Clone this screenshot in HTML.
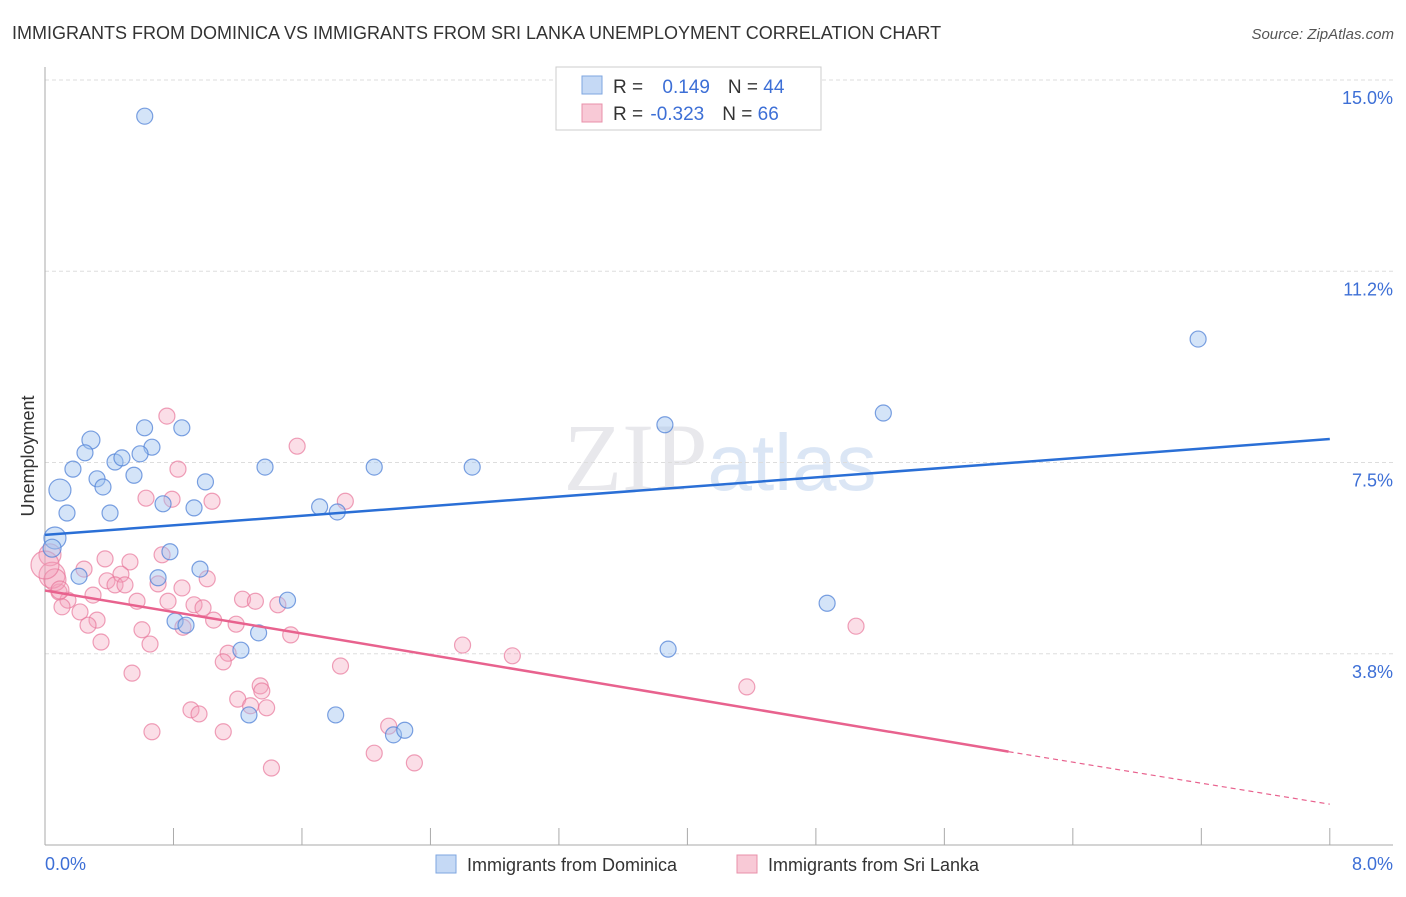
<!DOCTYPE html>
<html><head><meta charset="utf-8"><style>
body{margin:0;background:#fff;font-family:"Liberation Sans",sans-serif;}
svg text{font-family:"Liberation Sans",sans-serif;}
</style></head><body>
<svg id="chart" width="1406" height="892" xmlns="http://www.w3.org/2000/svg">
<text x="12" y="39" font-size="18" fill="#333">IMMIGRANTS FROM DOMINICA VS IMMIGRANTS FROM SRI LANKA UNEMPLOYMENT CORRELATION CHART</text>
<text x="1394" y="39" font-size="15" fill="#555" text-anchor="end" font-style="italic">Source: ZipAtlas.com</text>
<text x="720" y="490" font-size="96" fill="#e8e8ec" text-anchor="middle" font-family="Liberation Serif"><tspan font-family="Liberation Serif">ZIP</tspan><tspan fill="#dbe6f5" font-size="80" font-family="Liberation Sans">atlas</tspan></text>
<text x="34" y="456" font-size="18" fill="#333" text-anchor="middle" transform="rotate(-90 34 456)">Unemployment</text>
<g id="grid"></g><g id="ticks"></g><g id="marks"></g><g id="lines"></g>
<g>
<rect x="556" y="67" width="265" height="63" fill="#fff" stroke="#ccc"/>
<rect x="582" y="76" width="20" height="18" fill="#c5d9f5" stroke="#7ea6e0"/>
<rect x="582" y="104" width="20" height="18" fill="#f8c9d6" stroke="#e890aa"/>
<text x="613" y="93" font-size="19" fill="#333">R = <tspan fill="#3d6fd6" dx="14">0.149</tspan><tspan fill="#333" dx="18">N = </tspan><tspan fill="#3d6fd6">44</tspan></text>
<text x="613" y="120" font-size="19" fill="#333">R = <tspan fill="#3d6fd6" dx="2">-0.323</tspan><tspan fill="#333" dx="18">N = </tspan><tspan fill="#3d6fd6">66</tspan></text>
</g>
<g>
<rect x="436" y="855" width="20" height="18" fill="#c5d9f5" stroke="#7ea6e0"/>
<text x="467" y="871" font-size="18" fill="#333">Immigrants from Dominica</text>
<rect x="737" y="855" width="20" height="18" fill="#f8c9d6" stroke="#e890aa"/>
<text x="768" y="871" font-size="18" fill="#333">Immigrants from Sri Lanka</text>
</g>
</svg>
<script>
const yTicks=[15.0,11.25,7.5,3.75];
const yTickLabels=["15.0%","11.2%","7.5%","3.8%"];
const xTickLabels=["0.0%","8.0%"];
const domX=[0.621,7.18,5.22,3.86,0.62,0.852,0.286,0.249,0.666,0.436,0.479,0.592,0.174,1.37,2.05,2.66,0.324,0.554,0.999,0.361,0.093,0.735,0.928,0.137,0.405,1.71,1.82,0.062,0.044,0.778,0.212,0.965,0.704,1.51,4.87,0.81,0.878,1.33,1.22,3.88,1.81,1.27,2.17,2.24];
const domY=[14.29,9.92,8.47,8.24,8.18,8.18,7.94,7.69,7.80,7.51,7.59,7.67,7.37,7.41,7.41,7.41,7.18,7.25,7.12,7.02,6.96,6.69,6.61,6.51,6.51,6.63,6.53,6.02,5.82,5.75,5.27,5.41,5.24,4.80,4.74,4.39,4.31,4.16,3.82,3.84,2.55,2.55,2.16,2.25];
const domR=[8,8,8,8,8,8,9,8,8,8,8,8,8,8,8,8,8,8,8,8,11,8,8,8,8,8,8,11,9,8,8,8,8,8,8,8,8,8,8,8,8,8,8,8];
const slX=[0.759,1.57,0.828,0.629,0.791,1.04,1.87,0.729,0.374,0.529,0.243,0.473,1.01,0.386,0.436,0.498,0.704,0.853,0.087,0.299,0.143,0.573,0.766,0.928,0.984,1.23,1.31,1.45,0.106,0.218,0.324,0.268,1.05,1.19,0.604,0.859,1.53,0.349,0.654,1.14,1.11,1.84,0.542,1.34,1.35,1.20,1.28,1.38,0.909,0.959,0.666,1.11,2.14,2.05,1.41,2.30,5.05,2.60,2.91,4.37,0.031,0.044,0.062,0.0,0.093];
const slY=[8.41,7.82,7.37,6.80,6.78,6.74,6.74,5.69,5.61,5.55,5.41,5.31,5.22,5.18,5.10,5.10,5.12,5.04,4.96,4.90,4.80,4.78,4.78,4.71,4.65,4.82,4.78,4.71,4.67,4.57,4.41,4.31,4.41,4.33,4.22,4.27,4.12,3.98,3.94,3.76,3.59,3.51,3.37,3.12,3.02,2.86,2.73,2.69,2.65,2.57,2.22,2.22,2.33,1.80,1.51,1.61,4.29,3.92,3.71,3.10,5.69,5.29,5.20,5.49,5.00];
const slR=[8,8,8,8,8,8,8,8,8,8,8,8,8,8,8,8,8,8,8,8,8,8,8,8,8,8,8,8,8,8,8,8,8,8,8,8,8,8,8,8,8,8,8,8,8,8,8,8,8,8,8,8,8,8,8,8,8,8,8,8,11,13,11,14,9];
const domTrend=[[0,6.08],[8,7.96]];
const slTrend=[[0,4.99],[6.0,1.83],[8,0.80]];
const X=v=>45+v*160.6, Y=v=>80+(15-v)*51.0;
const ns="http://www.w3.org/2000/svg";
function mk(tag,attrs,parent){const e=document.createElementNS(ns,tag);for(const k in attrs)e.setAttribute(k,attrs[k]);parent.appendChild(e);return e;}
const grid=document.getElementById('grid'),ticks=document.getElementById('ticks'),marks=document.getElementById('marks'),lines=document.getElementById('lines');
yTicks.forEach((t,i)=>{
 const l=mk('line',{x1:45,x2:1393,y1:Y(t),y2:Y(t),stroke:'#ddd','stroke-dasharray':'4,3'},grid);
 
 
 const tx=mk('text',{x:1393,y:Y(t)+24,'font-size':18,fill:'#3d6fd6','text-anchor':'end'},ticks);
 tx.textContent=yTickLabels[i];
 
 
});
const ya=mk('line',{x1:45,x2:45,y1:67,y2:845,stroke:'#aaa'},ticks);


const xa=mk('line',{x1:45,x2:1393,y1:845,y2:845,stroke:'#aaa'},ticks);


for(let i=1;i<=10;i++){
 const tk=mk('line',{x1:X(i*0.8),x2:X(i*0.8),y1:828,y2:845,stroke:'#aaa'},ticks);
 
 
}
[[0,'start',45],[8,'end',1393]].forEach((a,i)=>{
 const tx=mk('text',{x:a[2],y:870,'font-size':18,fill:'#3d6fd6','text-anchor':a[1]},ticks);
 tx.textContent=xTickLabels[i];
 
 
});
slX.forEach((v,i)=>{
 const c=mk('circle',{cx:X(v),cy:Y(slY[i]),r:slR[i],fill:'rgba(244,160,185,0.35)',stroke:'rgba(232,120,155,0.7)','stroke-width':1.2},marks);
 
 
});
domX.forEach((v,i)=>{
 const c=mk('circle',{cx:X(v),cy:Y(domY[i]),r:domR[i],fill:'rgba(160,195,240,0.45)',stroke:'rgba(80,130,215,0.75)','stroke-width':1.2},marks);
 
 
});
const bl=mk('line',{x1:X(domTrend[0][0]),y1:Y(domTrend[0][1]),x2:X(domTrend[1][0]),y2:Y(domTrend[1][1]),stroke:'#2a6fd6','stroke-width':2.5},lines);


const pl=mk('line',{x1:X(slTrend[0][0]),y1:Y(slTrend[0][1]),x2:X(slTrend[1][0]),y2:Y(slTrend[1][1]),stroke:'#e8628e','stroke-width':2.5},lines);


const pd=mk('line',{x1:X(slTrend[1][0]),y1:Y(slTrend[1][1]),x2:X(slTrend[2][0]),y2:Y(slTrend[2][1]),stroke:'#e8628e','stroke-width':1.2,'stroke-dasharray':'5,4'},lines);


</script>
</body></html>
